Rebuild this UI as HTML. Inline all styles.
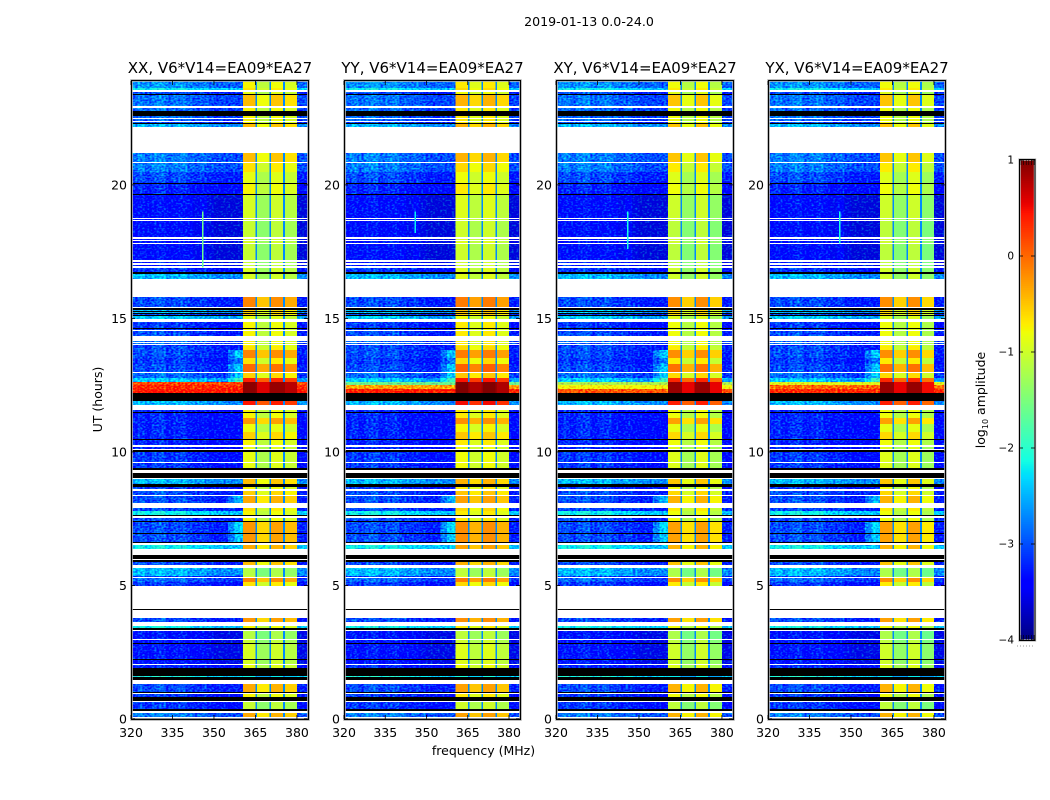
<!DOCTYPE html>
<html lang="en">
<head>
<meta charset="utf-8">
<title>2019-01-13 dynamic spectra</title>
<style>
html,body{margin:0;padding:0;background:#fff;}
svg{display:block;}
text{font-family:"DejaVu Sans","Liberation Sans",sans-serif;fill:#000;}
</style>
</head>
<body>
<svg id="figure" xmlns="http://www.w3.org/2000/svg" width="1050" height="800" viewBox="0 0 1050 800">
<defs>
<filter id="speckle" filterUnits="objectBoundingBox" x="0" y="0" width="1" height="1" color-interpolation-filters="sRGB">
<feTurbulence type="fractalNoise" baseFrequency="0.42 0.6" numOctaves="1" seed="4" result="n"/>
<feColorMatrix in="n" type="matrix" values="0 0 0 0 .5  1 0 0 0 0  0 0 0 0 .5  0 0 0 0 1" result="g"/>
<feComposite in="SourceGraphic" in2="g" operator="arithmetic" k1="0" k2="1" k3="1.4" k4="-0.7" result="m"/>
<feComposite in="m" in2="SourceAlpha" operator="in"/>
</filter>
</defs>
<text x="589" y="26" font-size="12.6" text-anchor="middle">2019-01-13 0.0-24.0</text>
<text x="483.5" y="755" font-size="12.5" text-anchor="middle">frequency (MHz)</text>
<text x="0" y="0" font-size="12.5" text-anchor="middle" transform="translate(102,399.5) rotate(-90)">UT (hours)</text>
<text x="0" y="0" font-size="12.5" text-anchor="middle" transform="translate(985,400) rotate(-90)">log<tspan font-size="8" dy="3">10</tspan><tspan dy="-3"> amplitude</tspan></text>
<g id="panels"></g>
<g id="colorbar"></g>
</svg>
<script>
const F = null; // flagged: white
const Z = -9;   // zero amplitude: black

const panelTitles = ["XX, V6*V14=EA09*EA27", "YY, V6*V14=EA09*EA27", "XY, V6*V14=EA09*EA27", "YX, V6*V14=EA09*EA27"];
const xTicks = [320, 335, 350, 365, 380];
const yTicks = [0, 5, 10, 15, 20];
const colorbarTicks = [1, 0, -1, -2, -3, -4];

// Time rows, top of each row in UT hours (ten per line)
const rowTopUT = [
23.89,23.63,23.56,23.48,23.41,23.37,22.96,22.88,22.77,22.58,
22.51,22.47,22.40,22.36,22.32,22.28,22.17,21.20,20.86,20.82,
20.49,20.11,20.07,20.04,19.66,19.62,18.76,18.73,18.69,18.65,
18.05,17.98,17.94,17.90,17.83,17.79,17.19,17.11,17.08,17.00,
16.96,16.89,16.74,16.67,16.48,15.80,15.43,15.39,15.32,15.28,
15.24,15.21,15.17,15.13,15.09,14.98,14.87,14.64,14.60,14.57,
14.53,14.34,14.16,14.12,14.08,14.04,14.01,13.97,13.82,13.52,
13.29,13.00,12.96,12.77,12.62,12.51,12.36,12.21,11.91,11.76,
11.57,11.50,11.46,11.27,11.05,10.75,10.49,10.45,10.26,10.19,
10.11,10.07,10.00,9.62,9.59,9.40,9.33,9.21,9.03,8.99,
8.80,8.69,8.61,8.54,8.39,8.35,8.09,7.90,7.79,7.64,
7.60,7.53,7.42,7.38,6.97,6.93,6.63,6.59,6.52,6.37,
6.14,5.99,5.95,5.88,5.77,5.65,5.36,5.32,5.28,5.13,
4.98,4.12,4.08,3.78,3.63,3.48,3.41,3.33,3.30,3.00,
2.96,2.85,2.81,2.25,2.21,2.06,2.02,1.91,1.61,1.57,
1.46,1.31,1.01,0.97,0.94,0.82,0.67,0.64,0.37,0.30,
0.22,0.07,0.04
];

// log10 amplitude outside the bright band, per row
const rowLowAmp = [
-2.8,-2.3,F,-3.15,Z,-2.95,F,-3.0,Z,-3.0,
F,-3.0,F,-3.15,Z,-2.6,F,-2.9,F,-2.9,
-3.15,-3.25,Z,-3.35,Z,-3.5,F,-3.45,F,-3.5,
F,-3.45,F,-3.45,F,-3.5,F,-3.45,F,-3.45,
F,-3.25,Z,-2.6,F,-3.15,F,Z,-2.6,Z,
-2.6,Z,-3.15,Z,-2.5,F,-3.25,Z,-3.25,F,
-3.15,F,-3.0,F,-3.0,F,-3.25,-3.15,-3.15,-3.25,
-3.15,F,-3.0,-2.5,0.3,0.3,0.3,Z,-2.6,F,
-3.35,Z,-3.35,-3.35,-3.35,-3.35,Z,-3.35,F,-3.35,
F,Z,-3.25,F,-3.25,Z,F,Z,F,-2.6,
Z,-3.25,F,-3.15,F,-3.15,F,-3.15,-2.3,Z,
F,-3.15,Z,-3.15,Z,-3.15,Z,F,-2.3,F,
Z,F,Z,-3.15,F,-2.6,-3.25,F,-3.0,-3.25,
F,Z,F,-3.15,F,-2.3,Z,F,-3.45,F,
-3.45,Z,-3.45,Z,-3.45,F,-3.35,Z,-2.2,Z,
F,-3.15,Z,F,-3.25,Z,F,-3.25,Z,F,
-2.9,F,Z
];

// log10 amplitude inside the 360-380 MHz band, per row
const rowBandAmp = [
-0.8,-0.7,F,-0.9,Z,-0.5,F,-0.8,Z,-0.8,
F,-0.8,F,-0.8,Z,-0.5,F,-0.5,F,-0.7,
-0.9,-0.9,Z,-0.8,Z,-1.0,F,-1.0,F,-1.1,
F,-1.0,F,-1.0,F,-1.1,F,-1.1,F,-1.1,
F,-1.0,Z,-1.0,F,-0.2,F,Z,-0.6,Z,
-0.6,Z,-0.6,Z,-0.9,F,-0.8,Z,-0.9,F,
-0.8,F,-0.8,F,-0.8,F,-0.8,-0.7,-0.2,-0.7,
-0.05,F,-0.6,0.35,0.9,0.9,0.9,Z,0.4,F,
-0.8,Z,-0.8,-0.3,-0.85,-0.6,Z,-0.8,F,-0.9,
F,Z,-0.9,F,-0.9,Z,F,Z,F,-0.5,
Z,-0.8,F,-0.6,F,-0.4,F,-0.7,-0.8,Z,
F,-0.8,Z,-0.3,Z,-0.3,Z,F,-0.4,F,
Z,F,Z,-0.5,F,-1.2,-1.0,F,-0.2,-0.7,
F,Z,F,-0.3,F,-0.8,Z,F,-1.2,F,
-1.1,Z,-1.0,Z,-1.0,F,-0.9,Z,-2.2,Z,
F,-0.4,Z,F,-0.8,Z,F,-1.1,Z,F,
-0.4,F,Z
];

// Rows with a rising shoulder just below the band: UT of row and amplitude
const shoulderUT = [13.82, 13.52, 13.29, 12.96, 12.77, 8.35, 7.38, 6.93];
const shoulderAmp = [-2.4, -2.8, -2.4, -2.4, -1.9, -2.5, -2.3, -2.4];

// Strong interference near 12.5 UT: row tops and amplitude per panel
const stormUT = [12.62, 12.51, 12.36];
const stormXX = [0.2, 0.35, 0.45];
const stormYY = [-1.6, -0.3, 0.4];
const stormXY = [-1.2, -0.8, 0.1];
const stormYX = [-0.9, 0.0, 0.35];

// Ripple across the channels below the band, 2.5 MHz wide
const lowRipple = [0.1,0.2,0.05,0.2,0.25,0.05,0.15,0.2,0.05,0,0.05,-0.05,-0.1,-0.1,-0.1,-0.1];

// Amplitude offset of the four sub-bands per panel
const blockShiftXX = [0.05, -0.3, 0.0, -0.15];
const blockShiftYY = [0.1, -0.1, 0.1, -0.1];
const blockShiftXY = [0.0, -0.35, 0.0, -0.35];
const blockShiftYX = [0.0, -0.35, 0.0, -0.4];
const gapAmp = -2.7;

// Narrow vertical interference near 345.7 MHz
const spikeFreq = 345.7;
const spikeStartUT = [16.9, 18.2, 17.6, 17.8];
const spikeEndUT = [19.0, 19.0, 19.0, 19.0];
const spikeAmp = [-1.6, -2.2, -2.1, -2.1];

const stormByPanel = [stormXX, stormYY, stormXY, stormYX];
const blockShiftByPanel = [blockShiftXX, blockShiftYY, blockShiftXY, blockShiftYX];

const panelLeft = [131, 344, 556, 768];
const panelWidth = [177, 176, 177, 177];
const plotTop = 81, plotBottom = 719;
const freqMin = 320, freqMax = 384, utMin = 0, utMax = 23.89;

const SVGNS = "http://www.w3.org/2000/svg";
function node(tag, parent, attrs) {
  const el = document.createElementNS(SVGNS, tag);
  for (const k in attrs) el.setAttribute(k, attrs[k]);
  parent.appendChild(el);
  return el;
}
function lerp(pts, t) {
  for (let i = 1; i < pts.length; i++) {
    if (t <= pts[i][0]) {
      const a = pts[i - 1], b = pts[i];
      return a[1] + (b[1] - a[1]) * (t - a[0]) / (b[0] - a[0]);
    }
  }
  return pts[pts.length - 1][1];
}
const jetR = [[0,0],[0.35,0],[0.66,1],[0.89,1],[1,0.5]];
const jetG = [[0,0],[0.125,0],[0.375,1],[0.64,1],[0.91,0],[1,0]];
const jetB = [[0,0.5],[0.11,1],[0.34,1],[0.65,0],[1,0]];
function jet(amp) {
  const t = Math.max(0, Math.min(1, (amp + 4) / 5));
  const c = v => Math.round(255 * v);
  return "rgb(" + c(lerp(jetR, t)) + "," + c(lerp(jetG, t)) + "," + c(lerp(jetB, t)) + ")";
}
const xScale = (p, f) => panelLeft[p] + (f - freqMin) / (freqMax - freqMin) * panelWidth[p];
const yScale = ut => plotBottom - (ut - utMin) / (utMax - utMin) * (plotBottom - plotTop);

// Channel layout below, inside and above the band
const lowEdges = [320,322.5,325,327.5,330,332.5,335,337.5,340,342.5,345,347.5,350,352.5,355,357.5,360.5];
const bandEdges = [[360.5,365],[365.6,370],[370.6,375],[375.7,380]];
const gapEdges = [[365,365.6],[370,370.6],[375,375.7]];

const panelsRoot = document.getElementById("panels");

function drawPanel(p) {
  const g = node("g", panelsRoot, {});
  
  

  const lowGroup = node("g", g, { filter: "url(#speckle)", "shape-rendering": "crispEdges" });
  
  
  const bandGroup = node("g", g, { "shape-rendering": "crispEdges" });
  
  
  const zeroGroup = node("g", g, { "shape-rendering": "crispEdges" });
  
  

  function cell(parent, f0, f1, y0, y1, amp, name) {
    const r = node("rect", parent, {
      x: xScale(p, f0), y: y0,
      width: xScale(p, f1) - xScale(p, f0), height: y1 - y0,
      fill: amp === Z ? "#000" : jet(amp)
    });
    
    
  }

  rowTopUT.forEach((top, r) => {
    const bottom = r + 1 < rowTopUT.length ? rowTopUT[r + 1] : 0;
    const y0 = yScale(top), y1 = yScale(bottom);
    const low = rowLowAmp[r], band = rowBandAmp[r];
    if (low === F) return;
    if (low === Z) { cell(zeroGroup, freqMin, freqMax, y0, y1, Z, 'zero-row'); return; }

    const storm = stormUT.indexOf(top);
    const lowValue = storm >= 0 ? stormByPanel[p][storm] : low;
    const shoulder = shoulderUT.indexOf(top);

    for (let c = 0; c < lowEdges.length - 1; c++) {
      let amp = storm >= 0 ? lowValue : lowValue + lowRipple[c];
      if (shoulder >= 0 && c === lowEdges.length - 2) amp = shoulderAmp[shoulder];
      if (shoulder >= 0 && c === lowEdges.length - 3) amp = (shoulderAmp[shoulder] + lowValue) / 2;
      cell(lowGroup, lowEdges[c], lowEdges[c + 1], y0, y1, amp, 'background-cell');
    }
    cell(lowGroup, 380, freqMax, y0, y1, storm >= 0 ? lowValue : lowValue - 0.1, 'background-cell');

    bandEdges.forEach((edge, b) => {
      cell(bandGroup, edge[0], edge[1], y0, y1, band + blockShiftByPanel[p][b], 'band-cell');
    });
    gapEdges.forEach(edge => {
      cell(bandGroup, edge[0], edge[1], y0, y1, storm >= 0 ? band : gapAmp, 'band-gap-cell');
    });
  });

  const spike = node("rect", g, {
    x: xScale(p, spikeFreq), y: yScale(spikeEndUT[p]), width: 1.2,
    height: yScale(spikeStartUT[p]) - yScale(spikeEndUT[p]),
    fill: jet(spikeAmp[p]), "shape-rendering": "crispEdges"
  });
  
  

  const L = panelLeft[p], W = panelWidth[p];
  const halo = node("rect", g, { x: L + 0.5, y: plotTop - 0.5, width: W, height: plotBottom - plotTop + 1, fill: "none", stroke: "#bdbdbd", "stroke-width": 2.6 });
  
  

  yTicks.forEach(t => {
    const y = yScale(t);
    const a = node("line", g, { x1: L, x2: L + 4, y1: y, y2: y, stroke: "#000", "stroke-width": 0.8 });
    
    
    const b = node("line", g, { x1: L + W, x2: L + W - 4, y1: y, y2: y, stroke: "#000", "stroke-width": 0.8 });
    
    
    const lab = node("text", g, { x: L - 4, y: y + 4.5, "font-size": 12.5, "text-anchor": "end" });
    lab.textContent = String(t);
    
    
  });
  xTicks.forEach(t => {
    const x = xScale(p, t);
    const a = node("line", g, { x1: x, x2: x, y1: plotBottom, y2: plotBottom - 4, stroke: "#000", "stroke-width": 0.8 });
    
    
    const b = node("line", g, { x1: x, x2: x, y1: plotTop, y2: plotTop + 4, stroke: "#000", "stroke-width": 0.8 });
    
    
    const lab = node("text", g, { x: x, y: plotBottom + 18, "font-size": 12.5, "text-anchor": "middle" });
    lab.textContent = String(t);
    
    
  });

  const frame = node("rect", g, { x: L + 0.5, y: plotTop - 0.5, width: W, height: plotBottom - plotTop + 1, fill: "none", stroke: "#000", "stroke-width": 1.1 });
  
  

  const title = node("text", g, { x: L + W / 2 + 0.5, y: 73, "font-size": 15, "text-anchor": "middle" });
  title.textContent = panelTitles[p];
  
  
}
[0, 1, 2, 3].forEach(drawPanel);

// Colorbar
const cbRoot = document.getElementById("colorbar");
const cbLeft = 1019, cbRight = 1035, cbTop = 160, cbBottom = 640;
const cbY = v => cbBottom - (v + 4) / 5 * (cbBottom - cbTop);
const cbSteps = 256;
for (let i = 0; i < cbSteps; i++) {
  const v0 = -4 + 5 * i / cbSteps, v1 = -4 + 5 * (i + 1) / cbSteps;
  const s = node("rect", cbRoot, { x: cbLeft, y: cbY(v1) - 0.3, width: cbRight - cbLeft, height: cbY(v0) - cbY(v1) + 0.6, fill: jet((v0 + v1) / 2) });
  
  
}
const cbHalo = node("rect", cbRoot, { x: cbLeft + 0.5, y: cbTop - 0.5, width: cbRight - cbLeft - 0.5, height: cbBottom - cbTop + 1, fill: "none", stroke: "#bdbdbd", "stroke-width": 2.4 });


for (let x = cbLeft + 2; x < cbRight; x += 2.6) {
  const a = node("line", cbRoot, { x1: x, x2: x, y1: cbTop, y2: cbTop + 5, stroke: "#000", "stroke-width": 0.6 });
  
  
  const b = node("line", cbRoot, { x1: x, x2: x, y1: cbBottom, y2: cbBottom - 5, stroke: "#000", "stroke-width": 0.6 });
  
  
}
for (let x = cbLeft - 2; x < cbRight; x += 3) {
  const d = node("rect", cbRoot, { x: x, y: 645.5, width: 1, height: 1, fill: "#999" });
  
  
}
colorbarTicks.forEach(t => {
  const y = cbY(t);
  const a = node("line", cbRoot, { x1: cbLeft, x2: cbLeft + 4, y1: y, y2: y, stroke: "#000", "stroke-width": 0.8 });
  
  
  const b = node("line", cbRoot, { x1: cbRight, x2: cbRight - 4, y1: y, y2: y, stroke: "#000", "stroke-width": 0.8 });
  
  
  const lab = node("text", cbRoot, { x: cbLeft - 5, y: y + 3.5, "font-size": 10.5, "text-anchor": "end" });
  lab.textContent = t < 0 ? "\u2212" + Math.abs(t) : String(t);
  
  
});
const cbFrame = node("rect", cbRoot, { x: cbLeft + 0.5, y: cbTop - 0.5, width: cbRight - cbLeft - 0.5, height: cbBottom - cbTop + 1, fill: "none", stroke: "#000", "stroke-width": 1 });


</script>
</body>
</html>
